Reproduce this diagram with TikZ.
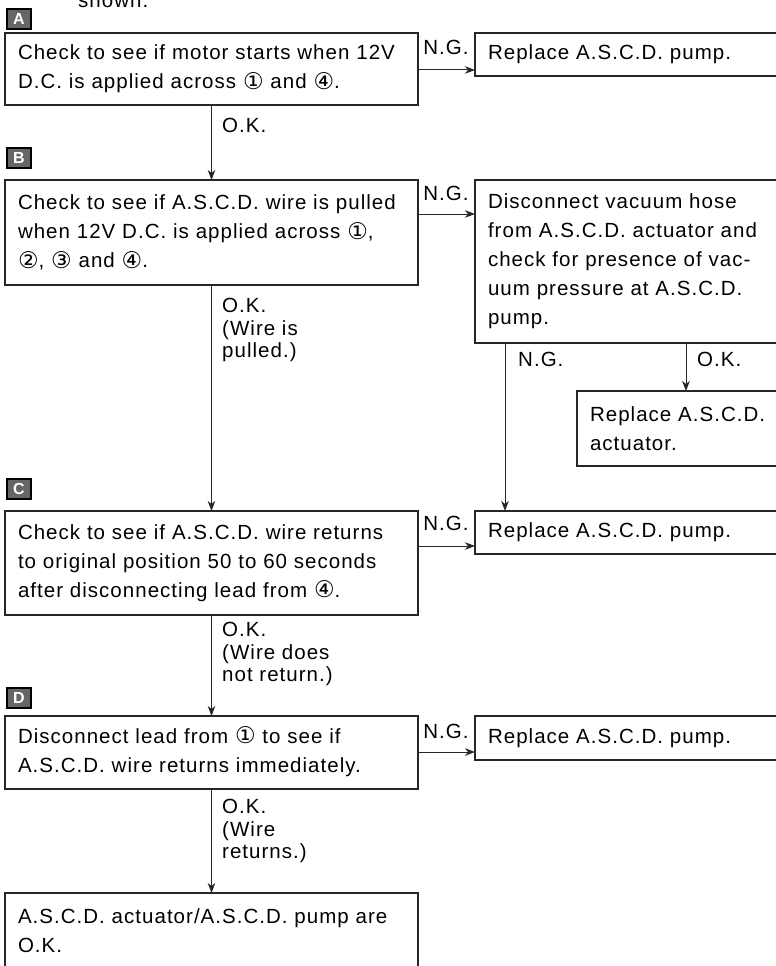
\documentclass[tikz,border=0pt]{standalone}
\usepackage{fontspec}
\setmainfont{Liberation Sans}[LetterSpace=5]
\newfontfamily\circfont{DejaVu Sans}
\usetikzlibrary{arrows.meta}
\newcommand{\cnum}[1]{\smash{\raisebox{-0.5pt}{\circfont\fontsize{23}{23}\selectfont #1}}}
\newcommand{\lin}[1]{\mbox{#1}}
\tikzset{
  box/.style={draw=black!85, line width=1.1pt, rectangle, anchor=north west,
    inner xsep=13pt, inner ysep=0pt, outer sep=0pt, align=left,
    font=\fontsize{20.5}{29}\selectfont},
  lbl/.style={anchor=north west, inner sep=0pt, align=left,
    font=\fontsize{20.5}{22.5}\selectfont},
  nglbl/.style={inner sep=0pt, font=\fontsize{20.5}{22}\selectfont},
  arr/.style={draw=black!85, line width=1pt, -{Stealth[length=10pt,width=7.5pt,inset=3pt]}},
  badge/.style={draw=black, line width=1.6pt, fill=black!60, text=white,
    font=\bfseries\fontsize{16}{16}\selectfont, minimum width=24pt,
    minimum height=20pt, inner sep=0pt}
}
\begin{document}
\begin{tikzpicture}[x=1pt,y=-1pt]
\useasboundingbox (0,0) rectangle (776,966);
\fill[white] (0,0) rectangle (776,966);

% top text (cut off as in the source page)
\node[anchor=base west, inner sep=0pt, font=\fontsize{20.5}{22}\selectfont] (shown) at (78,8) {shown.};

% badges
\node[badge] (bA) at (19,19) {A};
\node[badge] (bB) at (19,158) {B};
\node[badge] (bC) at (19,489) {C};
\node[badge] (bD) at (19,698) {D};

% boxes
\node[box, minimum width=413, minimum height=72, text width=387] (A) at (5,33)
  {\lin{Check to see if motor starts when 12V}\\\lin{D.C. is applied across \cnum{①} and \cnum{④}.}};
\node[box, minimum width=315, minimum height=43, text width=289] (RA) at (475,33)
  {\lin{Replace A.S.C.D. pump.}};

\node[box, minimum width=413, minimum height=105, text width=387] (B) at (5,180)
  {\lin{Check to see if A.S.C.D. wire is pulled}\\\lin{when 12V D.C. is applied across \cnum{①},}\\\lin{\cnum{②}, \cnum{③} and \cnum{④}.}};
\node[box, minimum width=315, minimum height=163, text width=289] (V) at (475,180)
  {\lin{Disconnect vacuum hose}\\\lin{from A.S.C.D. actuator and}\\\lin{check for presence of vac-}\\\lin{uum pressure at A.S.C.D.}\\\lin{pump.}};
\node[box, minimum width=213, minimum height=75, text width=187] (ACT) at (577,391)
  {\lin{Replace A.S.C.D.}\\\lin{actuator.}};

\node[box, minimum width=413, minimum height=104, text width=387] (C) at (5,511)
  {\lin{Check to see if A.S.C.D. wire returns}\\\lin{to original position 50 to 60 seconds}\\\lin{after disconnecting lead from \cnum{④}.}};
\node[box, minimum width=315, minimum height=43, text width=289] (PC) at (475,511)
  {\lin{Replace A.S.C.D. pump.}};

\node[box, minimum width=413, minimum height=73, text width=387] (D) at (5,716)
  {\lin{Disconnect lead from \cnum{①} to see if}\\\lin{A.S.C.D. wire returns immediately.}};
\node[box, minimum width=315, minimum height=44, text width=289] (PD) at (475,716)
  {\lin{Replace A.S.C.D. pump.}};

\node[box, minimum width=413, minimum height=76, text width=387] (F) at (5,893)
  {\lin{A.S.C.D. actuator/A.S.C.D. pump are}\\\lin{O.K.}};

% helper coordinates
\coordinate (yA) at (0,70);
\coordinate (yB) at (0,214);
\coordinate (yC) at (0,546);
\coordinate (yD) at (0,752);
\coordinate (xNG) at (505,0);
\coordinate (xOK) at (686,0);

% connectors
\draw[arr] (A.south) -- (B.north);
\draw[arr] (B.south) -- (C.north);
\draw[arr] (C.south) -- (D.north);
\draw[arr] (D.south) -- (F.north);
\draw[arr] (A.east |- yA) -- (RA.west |- yA);
\draw[arr] (B.east |- yB) -- (V.west |- yB);
\draw[arr] (C.east |- yC) -- (PC.west |- yC);
\draw[arr] (D.east |- yD) -- (PD.west |- yD);
\draw[arr] (V.south -| xNG) -- (PC.north -| xNG);
\draw[arr] (V.south -| xOK) -- (ACT.north -| xOK);

% labels
\node[nglbl] (ngA) at (446,47) {N.G.};
\node[nglbl] (ngB) at (446,193) {N.G.};
\node[nglbl] (ngC) at (446,523) {N.G.};
\node[nglbl] (ngD) at (446,731) {N.G.};
\node[lbl] (okA) at (222,118) {O.K.};
\node[lbl] (okB) at (222,298) {O.K.\\(Wire is\\pulled.)};
\node[lbl] (okC) at (222,622) {O.K.\\(Wire does\\not return.)};
\node[lbl] (okD) at (222,799) {O.K.\\(Wire\\returns.)};
\node[lbl] (ngV) at (518,352) {N.G.};
\node[lbl] (okV) at (697,352) {O.K.};
\end{tikzpicture}
\end{document}
